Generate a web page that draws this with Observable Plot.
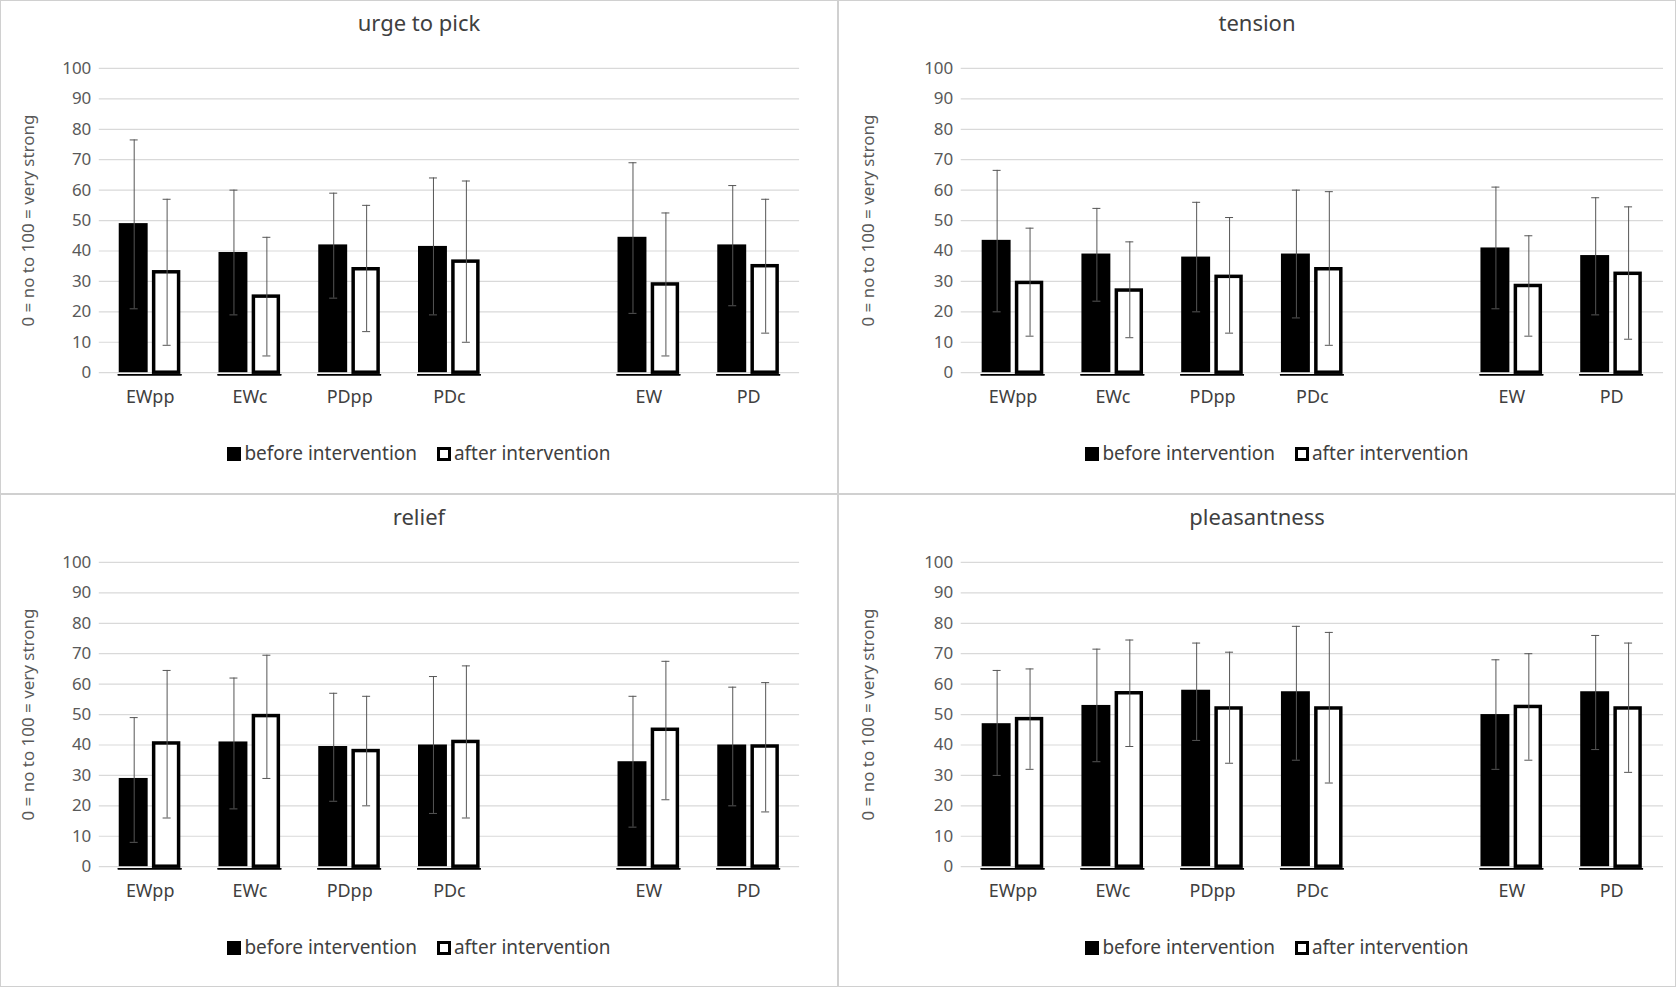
<!DOCTYPE html>
<html><head><meta charset="utf-8">
<script src="https://cdn.jsdelivr.net/npm/d3@7"></script>
<script src="https://cdn.jsdelivr.net/npm/@observablehq/plot@0.6"></script>
<style>
body{margin:0;background:#fff;font-family:"Noto Sans",sans-serif;}
#grid{display:grid;grid-template-columns:838px 838px;grid-template-rows:494px 493px;width:1676px;}
.panel{position:relative;box-sizing:border-box;border:1px solid #d0d0d0;overflow:hidden}
.title{height:40px;line-height:42px;text-align:center;font-size:22px;color:#404040}
.legend{text-align:center;font-size:19px;color:#404040;margin-top:0px}
.sw{display:inline-block;width:14px;height:14px;vertical-align:-1px;margin-right:3px;box-sizing:border-box;border:3px solid #000}
</style></head><body><div id="grid"></div>
<script>
const categories=["EWpp","EWc","PDpp","PDc"," ","EW","PD"];
const titles=["urge to pick","tension","relief","pleasantness"];
const cats=["EWpp","EWc","PDpp","PDc","EW","PD"];
// [mean, upper, lower] per category, before / after
const urgeBefore=[[49,76.5,21],[39.5,60,19],[42,59,24.5],[41.5,64,19],[44.5,69,19.5],[42,61.5,22]];
const urgeAfter=[[33,57,9],[25,44.5,5.5],[34,55,13.5],[36.5,63,10],[29,52.5,5.5],[35,57,13]];
const tensionBefore=[[43.5,66.5,20],[39,54,23.5],[38,56,20],[39,60,18],[41,61,21],[38.5,57.5,19]];
const tensionAfter=[[29.5,47.5,12],[27,43,11.5],[31.5,51,13],[34,59.5,9],[28.5,45,12],[32.5,54.5,11]];
const reliefBefore=[[29,49,8],[41,62,19],[39.5,57,21.5],[40,62.5,17.5],[34.5,56,13],[40,59,20]];
const reliefAfter=[[40.5,64.5,16],[49.5,69.5,29],[38,56,20],[41,66,16],[45,67.5,22],[39.5,60.5,18]];
const pleasBefore=[[47,64.5,30],[53,71.5,34.5],[58,73.5,41.5],[57.5,79,35],[50,68,32],[57.5,76,38.5]];
const pleasAfter=[[48.5,65,32],[57,74.5,39.5],[52,70.5,34],[52,77,27.5],[52.5,70,35],[52,73.5,31]];
const yTicks=[0,10,20,30,40,50,60,70,80,90,100];
const sets=[[urgeBefore,urgeAfter],[tensionBefore,tensionAfter],[reliefBefore,reliefAfter],[pleasBefore,pleasAfter]];
const grid=document.getElementById("grid");
sets.forEach(([b,a],i)=>{
  const right=i%2===1;
  const ml=right?122:98, mr=right?12:38;
  const rows=[];
  cats.forEach((c,j)=>{rows.push({cat:c,s:"before",v:b[j][0],hi:b[j][1],lo:b[j][2]});rows.push({cat:c,s:"after",v:a[j][0],hi:a[j][1],lo:a[j][2]});});
  const bef=rows.filter(d=>d.s==="before"), aft=rows.filter(d=>d.s==="after");
  const panel=document.createElement("div");panel.className="panel";
  panel.innerHTML=`<div class="title">${titles[i]}</div>`;
  const plot=Plot.plot({
    width:838,height:400,marginTop:27,marginBottom:68,marginLeft:ml,marginRight:mr,
    style:{fontFamily:"Noto Sans",fontSize:"17px",color:"#595959",overflow:"visible"},
    x:{domain:categories,padding:0,label:null,tickSize:0,tickPadding:18},
    y:{domain:[0,100],ticks:yTicks,label:"0 = no to 100 = very strong",labelAnchor:"center",labelArrow:"none",labelOffset:90-(right?-24:0)},
    marks:[
      Plot.ruleY(yTicks,{stroke:"#d9d9d9",strokeWidth:1.2}),
      Plot.axisY({ticks:yTicks,tickSize:0,tickPadding:8,fontSize:17,label:"0 = no to 100 = very strong",labelAnchor:"center",labelArrow:"none",labelOffset:right?100:78,fill:"#595959"}),
      Plot.barY(bef,{x:"cat",y:"v",fill:"#000",insetLeft:19,insetRight:52}),
      Plot.barY(aft,{x:"cat",y:"v",fill:"#fff",stroke:"#000",strokeWidth:3.5,insetLeft:54,insetRight:21}),
      Plot.ruleX(bef,{x:"cat",y1:"lo",y2:"hi",dx:-16,stroke:"#555",strokeWidth:1}),
      Plot.ruleX(aft,{x:"cat",y1:"lo",y2:"hi",dx:17,stroke:"#555",strokeWidth:1}),
      Plot.tickY(bef,{x:"cat",y:"hi",insetLeft:30,insetRight:62,stroke:"#555"}),
      Plot.tickY(bef,{x:"cat",y:"lo",insetLeft:30,insetRight:62,stroke:"#555"}),
      Plot.tickY(aft,{x:"cat",y:"hi",insetLeft:63,insetRight:29,stroke:"#555"}),
      Plot.tickY(aft,{x:"cat",y:"lo",insetLeft:63,insetRight:29,stroke:"#555"}),
      Plot.tickY(rows,{x:"cat",y:0,insetLeft:18,insetRight:18,stroke:"#000",strokeWidth:1.5,dy:2}),
      Plot.axisX({tickSize:0,tickPadding:18,fontSize:18,fill:"#404040",label:null})
    ]
  });
  panel.appendChild(plot);
  const lg=document.createElement("div");lg.className="legend";
  lg.style.paddingLeft=right?"40px":"0";
  lg.innerHTML=`<span class="sw" style="background:#000"></span>before intervention &nbsp;&nbsp;&nbsp;<span class="sw" style="background:#fff"></span>after intervention`;
  panel.appendChild(lg);
  grid.appendChild(panel);
});
</script></body></html>
